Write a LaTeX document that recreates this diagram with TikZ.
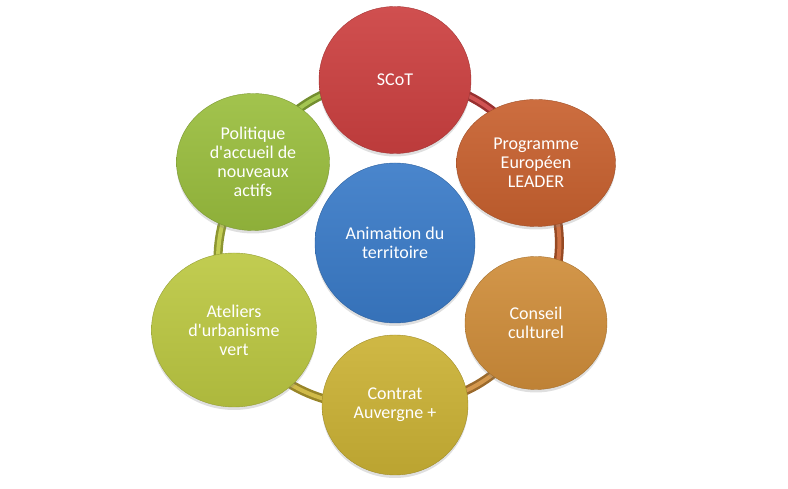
\documentclass[tikz,border=0pt]{standalone}
\usepackage{fontspec}
\setmainfont{Carlito}[Ligatures=TeXOff]
\usetikzlibrary{shapes.geometric,shadows,backgrounds}

\definecolor{scotred}{HTML}{CC4040}
\definecolor{leaderorange}{HTML}{C8612F}
\definecolor{conseilorange}{HTML}{CF8D3A}
\definecolor{contratgold}{HTML}{CBB235}
\definecolor{ateliersgreen}{HTML}{BCC842}
\definecolor{politiquegreen}{HTML}{9ABE3E}
\definecolor{animblue}{HTML}{3A7BC8}

\tikzset{
  bubble/.style={ellipse, inner sep=0pt, align=center, text=white,
    font=\fontsize{18}{19}\selectfont,
    top color=#1!92!white, bottom color=#1!92!black,
    draw=#1!80!black, line width=0.4pt,
    drop shadow={opacity=0.25, shadow xshift=0pt, shadow yshift=-3pt}},
  ring/.style={draw=#1!75!black, double=#1!90!white, double distance=4pt,
    line width=2.5pt}
}

\begin{document}
\begin{tikzpicture}[x=1pt,y=1pt]
  \useasboundingbox (0,0) rectangle (788,489);
  \node[bubble=scotred, minimum width=152pt, minimum height=147pt]
    (scot) at (395,409) {SCoT};
  \node[bubble=leaderorange, minimum width=159pt, minimum height=127pt]
    (leader) at (536,326) {Programme\\Europ\'een\\LEADER};
  \node[bubble=conseilorange, minimum width=142pt, minimum height=133pt]
    (conseil) at (536,166) {Conseil\\culturel};
  \node[bubble=contratgold, minimum width=146pt, minimum height=140pt]
    (contrat) at (395,84) {Contrat\\Auvergne +};
  \node[bubble=ateliersgreen, minimum width=165pt, minimum height=154pt]
    (ateliers) at (234,159) {Ateliers\\d'urbanisme\\vert};
  \node[bubble=politiquegreen, minimum width=153pt, minimum height=137pt]
    (politique) at (253,327) {Politique\\d'accueil de\\nouveaux\\actifs};
  \node[bubble=animblue, minimum width=160pt, minimum height=160pt]
    (anim) at (395,246) {Animation du\\territoire};
  \begin{scope}[on background layer]
    \draw[ring=scotred] (scot.center) to[bend left=30] (leader.center);
    \draw[ring=leaderorange] (leader.center) to[bend left=30] (conseil.center);
    \draw[ring=conseilorange] (conseil.center) to[bend left=30] (contrat.center);
    \draw[ring=contratgold] (contrat.center) to[bend left=30] (ateliers.center);
    \draw[ring=ateliersgreen] (ateliers.center) to[bend left=30] (politique.center);
    \draw[ring=politiquegreen] (politique.center) to[bend left=30] (scot.center);
  \end{scope}
\end{tikzpicture}
\end{document}
